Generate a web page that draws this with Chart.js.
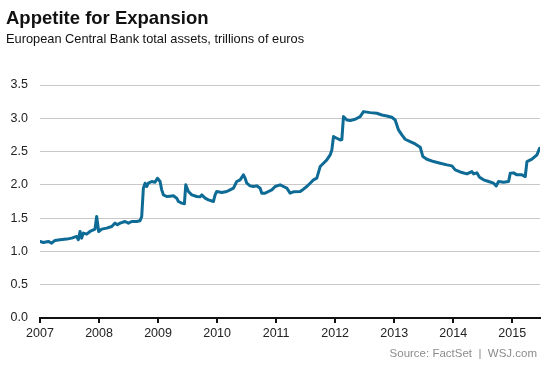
<!DOCTYPE html>
<html>
<head>
<meta charset="utf-8">
<script src="https://cdn.jsdelivr.net/npm/chart.js@4/dist/chart.umd.min.js"></script>
<style>
  html, body { margin: 0; padding: 0; background: #fff; }
  #wrap { position: relative; width: 553px; height: 369px; overflow: hidden; font-family: "Liberation Sans", Arial, sans-serif; }
  #c { position: absolute; left: 0; top: 0; }
  .title { position: absolute; left: 6px; top: 7px; font-size: 18.5px; font-weight: bold; color: #111; white-space: nowrap; }
  .sub { position: absolute; left: 6px; top: 31px; font-size: 12.8px; color: #111; white-space: nowrap; }
  .src { position: absolute; right: 16px; top: 347px; font-size: 11.5px; color: #8c8c8c; white-space: pre; }
</style>
</head>
<body>
<div id="wrap">
  <canvas id="c" width="553" height="369"></canvas>
  <div class="title">Appetite for Expansion</div>
  <div class="sub">European Central Bank total assets, trillions of euros</div>
  <div class="src">Source: FactSet  |  WSJ.com</div>
</div>
<script>
// Dates as decimal years
const dates = [
  2007.000, 2007.056, 2007.141, 2007.198, 2007.254, 2007.339, 2007.452, 2007.537, 2007.621, 2007.650,
  2007.678, 2007.706, 2007.734, 2007.791, 2007.847, 2007.932, 2007.960, 2007.994, 2008.045, 2008.130,
  2008.215, 2008.271, 2008.311, 2008.356, 2008.441, 2008.497, 2008.554, 2008.638, 2008.695, 2008.723,
  2008.751, 2008.780, 2008.808, 2008.836, 2008.893, 2008.949, 2008.989, 2009.034, 2009.062, 2009.090,
  2009.147, 2009.203, 2009.260, 2009.316, 2009.345, 2009.401, 2009.446, 2009.469, 2009.514, 2009.571,
  2009.655, 2009.712, 2009.740, 2009.797, 2009.853, 2009.938, 2009.966, 2009.994, 2010.079, 2010.164,
  2010.220, 2010.277, 2010.333, 2010.390, 2010.446, 2010.475, 2010.503, 2010.559, 2010.616, 2010.672,
  2010.729, 2010.757, 2010.814, 2010.870, 2010.927, 2010.983, 2011.068, 2011.124, 2011.181, 2011.237,
  2011.294, 2011.407, 2011.463, 2011.520, 2011.576, 2011.633, 2011.689, 2011.746, 2011.802, 2011.859,
  2011.915, 2011.944, 2011.972, 2012.028, 2012.085, 2012.113, 2012.141, 2012.198, 2012.254, 2012.339,
  2012.424, 2012.480, 2012.593, 2012.706, 2012.791, 2012.876, 2012.960, 2013.017, 2013.073, 2013.130,
  2013.186, 2013.271, 2013.356, 2013.441, 2013.486, 2013.554, 2013.667, 2013.780, 2013.893, 2013.977,
  2014.034, 2014.147, 2014.232, 2014.316, 2014.345, 2014.401, 2014.446, 2014.514, 2014.599, 2014.684,
  2014.729, 2014.768, 2014.853, 2014.938, 2014.966, 2015.023, 2015.079, 2015.164, 2015.220, 2015.249,
  2015.333, 2015.418, 2015.463
];
// Total assets, trillions of euros
const assets = [
  1.15, 1.135, 1.15, 1.125, 1.165, 1.175, 1.185, 1.20, 1.225, 1.175,
  1.30, 1.20, 1.275, 1.26, 1.30, 1.335, 1.525, 1.30, 1.335, 1.35,
  1.375, 1.425, 1.40, 1.425, 1.45, 1.425, 1.45, 1.45, 1.46, 1.525,
  1.95, 2.025, 1.975, 2.025, 2.05, 2.04, 2.10, 2.05, 1.925, 1.85,
  1.825, 1.83, 1.835, 1.80, 1.75, 1.725, 1.715, 2.00, 1.90, 1.85,
  1.825, 1.82, 1.85, 1.80, 1.775, 1.75, 1.85, 1.90, 1.885, 1.90,
  1.925, 1.95, 2.05, 2.075, 2.15, 2.10, 2.025, 1.985, 1.975, 1.985,
  1.95, 1.875, 1.875, 1.90, 1.925, 1.975, 2.00, 1.975, 1.95, 1.875,
  1.895, 1.90, 1.935, 1.975, 2.025, 2.075, 2.10, 2.275, 2.325, 2.375,
  2.45, 2.525, 2.725, 2.70, 2.675, 2.68, 3.025, 2.975, 2.965, 2.985,
  3.025, 3.10, 3.085, 3.075, 3.05, 3.035, 3.015, 2.975, 2.825, 2.75,
  2.685, 2.65, 2.615, 2.565, 2.425, 2.385, 2.35, 2.325, 2.30, 2.285,
  2.225, 2.185, 2.165, 2.20, 2.165, 2.18, 2.115, 2.075, 2.05, 2.025,
  1.985, 2.05, 2.04, 2.05, 2.175, 2.18, 2.15, 2.15, 2.125, 2.35,
  2.385, 2.45, 2.55
];
const xTickYears = [2007, 2008, 2009, 2010, 2011, 2012, 2013, 2014, 2015];
const yTickValues = [0, 0.5, 1.0, 1.5, 2.0, 2.5, 3.0, 3.5];

const points = dates.map((d, i) => ({ x: d, y: assets[i] }));

new Chart(document.getElementById('c'), {
  type: 'line',
  data: {
    datasets: [{
      data: points,
      borderColor: '#0e6b96',
      borderWidth: 3,
      pointRadius: 0,
      tension: 0,
      borderJoinStyle: 'round',
      borderCapStyle: 'round',
      fill: false
    }]
  },
  options: {
    responsive: false,
    devicePixelRatio: 1,
    animation: false,
    layout: { padding: { top: 85, right: 13, left: 0, bottom: 0 } },
    plugins: { legend: { display: false }, tooltip: { enabled: false }, title: { display: false } },
    scales: {
      x: {
        type: 'linear',
        min: 2007,
        max: 2015.47,
        afterBuildTicks: (s) => { s.ticks = xTickYears.map(v => ({ value: v })); },
        afterFit: (s) => { s.height = 51; },
        ticks: {
          callback: (v) => String(v),
          color: '#222',
          font: { family: '"Liberation Sans", Arial, sans-serif', size: 12.5 },
          padding: 3,
          maxRotation: 0,
          autoSkip: false
        },
        grid: { drawOnChartArea: false, drawTicks: true, tickLength: 5, color: '#111', lineWidth: 2 },
        border: { display: true, color: '#111', width: 2 }
      },
      y: {
        min: 0,
        max: 3.5,
        afterBuildTicks: (s) => { s.ticks = yTickValues.map(v => ({ value: v })); },
        afterFit: (s) => { s.width = 40; },
        ticks: {
          callback: (v) => Number(v).toFixed(1),
          color: '#222',
          font: { family: '"Liberation Sans", Arial, sans-serif', size: 12.5 },
          padding: 12
        },
        grid: { color: '#c8c8c8', lineWidth: 1, drawTicks: false },
        border: { display: false }
      }
    }
  }
});
</script>
</body>
</html>
